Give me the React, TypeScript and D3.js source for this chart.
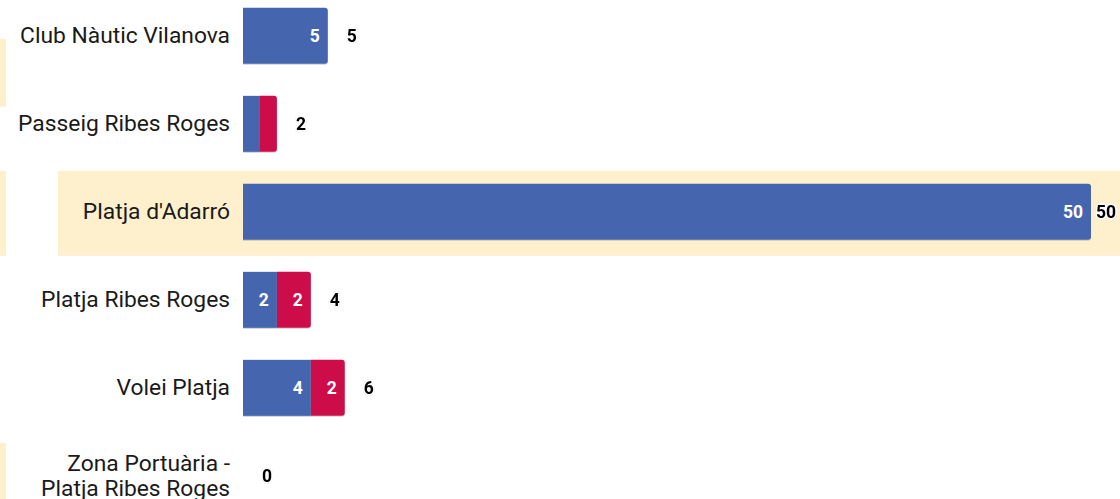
import React from "react";
import * as d3 from "d3";

const categories = [
  "Club Nàutic Vilanova",
  "Passeig Ribes Roges",
  "Platja d'Adarró",
  "Platja Ribes Roges",
  "Volei Platja",
  "Zona Portuària - Platja Ribes Roges",
];
const labelLines: string[][] = [
  ["Club Nàutic Vilanova"],
  ["Passeig Ribes Roges"],
  ["Platja d'Adarró"],
  ["Platja Ribes Roges"],
  ["Volei Platja"],
  ["Zona Portuària -", "Platja Ribes Roges"],
];
const seriesBlue = [5, 1, 50, 2, 4, 0];
const seriesRed = [0, 1, 0, 2, 2, 0];
const seriesKeys = ["blue", "red"];
const seriesColors = ["#4566AE", "#CD1148"];

const W = 1120;
const H = 499;

export default function App() {
  const rows = categories.map((c, i) => ({ cat: c, blue: seriesBlue[i], red: seriesRed[i] }));
  const stack = d3.stack<any>().keys(seriesKeys)(rows);
  const x = d3.scaleLinear().domain([0, 50]).range([243, 1091]);
  const pi = 0.3636;
  const po = 0.18;
  const y = d3
    .scaleBand<string>()
    .domain(categories)
    .range([-8, -8 + 88 * (categories.length - pi + 2 * po)])
    .paddingInner(pi)
    .paddingOuter(po);
  const bw = y.bandwidth();
  const cy = (c: string) => (y(c) as number) + bw / 2;

  const roundedRight = (x0: number, x1: number, y0: number, h: number, r: number) => {
    const p = d3.path();
    p.moveTo(x0, y0);
    p.lineTo(x1 - r, y0);
    p.arcTo(x1, y0, x1, y0 + r, r);
    p.lineTo(x1, y0 + h - r);
    p.arcTo(x1, y0 + h, x1 - r, y0 + h, r);
    p.lineTo(x0, y0 + h);
    p.closePath();
    return p.toString();
  };

  const font = "Roboto, 'Noto Sans', sans-serif";

  return (
    <svg
      width={W}
      height={H}
      style={{ position: "absolute", left: 0, top: 0, display: "block" }}
      fontFamily={font}
    >
      <defs>
        <filter id="sh" x="-5%" y="-10%" width="110%" height="130%">
          <feDropShadow dx="0" dy="1" stdDeviation="0.6" floodColor="#000" floodOpacity="0.18" />
        </filter>
        <filter id="th" x="-30%" y="-30%" width="160%" height="160%">
          <feDropShadow dx="0" dy="0" stdDeviation="0.7" floodColor="#000" floodOpacity="0.35" />
        </filter>
      </defs>
      {/* highlight bands */}
      <rect x={0} y={cy(categories[0]) + 3} width={6} height={68} fill="#FEF0CD" />
      <rect x={0} y={cy(categories[2]) - 41} width={6} height={85} fill="#FEF0CD" />
      <rect x={58} y={cy(categories[2]) - 41} width={W - 58} height={85} fill="#FEF0CD" />
      <rect x={0} y={cy(categories[5]) - 33} width={6} height={60} fill="#FEF0CD" />

      {/* category labels */}
      {rows.map((r, i) => {
        const lines = labelLines[i];
        const lh = 25;
        const start = cy(r.cat) - ((lines.length - 1) * lh) / 2;
        return (
          <text key={r.cat} x={230} textAnchor="end" fontSize={22.8} fill="#1a1a1a">
            {lines.map((l, j) => (
              <tspan key={j} x={230} y={start + j * lh} dy="0.33em">
                {l}
              </tspan>
            ))}
          </text>
        );
      })}

      {/* bars */}
      {rows.map((r, i) => {
        const segs = stack
          .map((s, k) => ({ k, x0: s[i][0], x1: s[i][1], v: s[i][1] - s[i][0] }))
          .filter((s) => s.v > 0);
        const yy = y(r.cat) as number;
        return (
          <g key={r.cat} filter="url(#sh)">
            {segs.map((s, j) => {
              const x0 = x(s.x0);
              const x1 = x(s.x1);
              const last = j === segs.length - 1;
              return last ? (
                <path key={s.k} d={roundedRight(x0, x1, yy, bw, 3)} fill={seriesColors[s.k]} />
              ) : (
                <rect key={s.k} x={x0} y={yy} width={x1 - x0} height={bw} fill={seriesColors[s.k]} />
              );
            })}
          </g>
        );
      })}

      {/* inner labels */}
      {rows.map((r, i) =>
        stack.map((s, k) => {
          const v = s[i][1] - s[i][0];
          const w = x(s[i][1]) - x(s[i][0]);
          if (v <= 0 || w < 25) return null;
          return (
            <text
              key={r.cat + k}
              x={x(s[i][1]) - 8}
              y={cy(r.cat)}
              dy="0.35em"
              textAnchor="end"
              fontSize={17.5}
              fontWeight="bold"
              fill="#fff"
            >
              {v}
            </text>
          );
        })
      )}

      {/* totals */}
      {rows.map((r) => {
        const total = r.blue + r.red;
        const txt = String(total);
        const tw = txt.length * 10;
        const tx = Math.min(x(total) + 19, W - 4 - tw);
        return (
          <g key={r.cat + "t"} filter="url(#th)">
            <text
              x={tx}
              y={cy(r.cat)}
              dy="0.35em"
              fontSize={17.5}
              fontWeight="bold"
              fill="#000"
              stroke="#fff"
              strokeWidth={3.5}
              strokeLinejoin="round"
              paintOrder="stroke"
            >
              {txt}
            </text>
          </g>
        );
      })}
    </svg>
  );
}
